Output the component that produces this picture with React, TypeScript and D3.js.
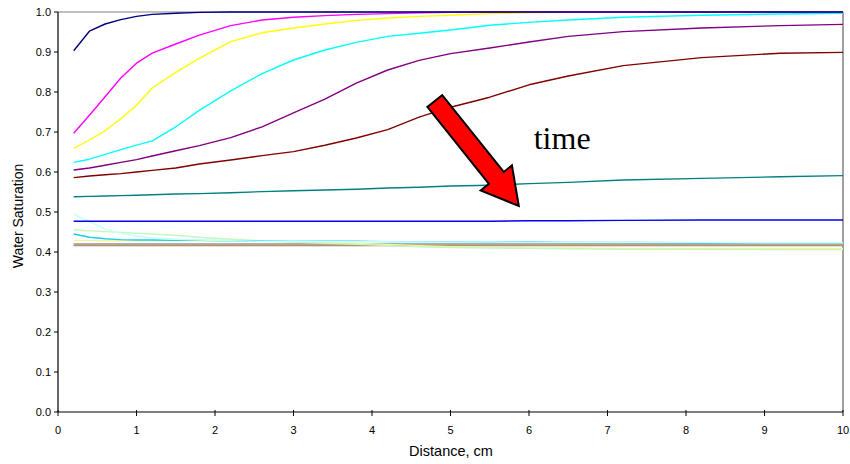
import React from "react";
import * as d3 from "d3";

const distances = [0.2, 0.4, 0.6, 0.8, 1.0, 1.2, 1.5, 1.8, 2.2, 2.6, 3.0, 3.4, 3.8, 4.2, 4.6, 5.0, 5.5, 6.0, 6.5, 7.2, 8.2, 9.2, 10];

const navy = [0.903, 0.952, 0.970, 0.981, 0.989, 0.994, 0.997, 0.999, 1.0, 1.0, 1.0, 1.0, 1.0, 1.0, 1.0, 1.0, 1.0, 1.0, 1.0, 1.0, 1.0, 1.0, 1.0];
const magenta = [0.697, 0.742, 0.788, 0.835, 0.872, 0.897, 0.920, 0.942, 0.966, 0.980, 0.987, 0.991, 0.994, 0.996, 0.998, 0.999, 1.0, 1.0, 1.0, 1.0, 1.0, 1.0, 1.0];
const yellow = [0.659, 0.680, 0.703, 0.733, 0.767, 0.810, 0.849, 0.884, 0.926, 0.948, 0.960, 0.970, 0.979, 0.985, 0.989, 0.992, 0.996, 0.998, 0.999, 1.0, 1.0, 1.0, 1.0];
const cyan = [0.624, 0.632, 0.644, 0.656, 0.667, 0.678, 0.713, 0.754, 0.803, 0.846, 0.880, 0.905, 0.924, 0.939, 0.947, 0.955, 0.967, 0.974, 0.980, 0.987, 0.992, 0.995, 0.997];
const purple = [0.605, 0.610, 0.617, 0.624, 0.631, 0.640, 0.653, 0.666, 0.686, 0.713, 0.748, 0.782, 0.822, 0.855, 0.879, 0.896, 0.910, 0.925, 0.939, 0.951, 0.960, 0.966, 0.969];
const darkRed = [0.586, 0.590, 0.593, 0.596, 0.600, 0.604, 0.610, 0.620, 0.630, 0.641, 0.651, 0.667, 0.685, 0.706, 0.737, 0.762, 0.787, 0.818, 0.840, 0.866, 0.886, 0.897, 0.899];
const teal = [0.538, 0.539, 0.540, 0.541, 0.542, 0.543, 0.545, 0.546, 0.548, 0.551, 0.553, 0.555, 0.557, 0.560, 0.562, 0.565, 0.567, 0.571, 0.574, 0.580, 0.584, 0.588, 0.591];
const blue = [0.477, 0.477, 0.477, 0.477, 0.477, 0.477, 0.477, 0.477, 0.477, 0.477, 0.477, 0.477, 0.477, 0.477, 0.477, 0.477, 0.477, 0.478, 0.478, 0.479, 0.480, 0.480, 0.480];
const paleCyan = [0.495, 0.476, 0.458, 0.447, 0.440, 0.435, 0.432, 0.430, 0.428, 0.427, 0.427, 0.426, 0.426, 0.426, 0.425, 0.425, 0.425, 0.424, 0.424, 0.424, 0.424, 0.423, 0.423];
const skyBlue = [0.445, 0.437, 0.433, 0.431, 0.430, 0.430, 0.429, 0.429, 0.428, 0.428, 0.427, 0.427, 0.427, 0.426, 0.426, 0.426, 0.425, 0.425, 0.424, 0.424, 0.423, 0.423, 0.423];
const paleGreen = [0.455, 0.453, 0.451, 0.449, 0.447, 0.445, 0.442, 0.437, 0.432, 0.428, 0.425, 0.422, 0.419, 0.416, 0.413, 0.411, 0.410, 0.409, 0.408, 0.407, 0.407, 0.406, 0.406];
const paleYellow = [0.429, 0.429, 0.428, 0.428, 0.428, 0.428, 0.428, 0.428, 0.427, 0.426, 0.425, 0.424, 0.422, 0.419, 0.416, 0.413, 0.411, 0.410, 0.410, 0.409, 0.409, 0.409, 0.409];
const silver = [0.421, 0.421, 0.421, 0.421, 0.421, 0.421, 0.421, 0.421, 0.421, 0.421, 0.421, 0.421, 0.421, 0.421, 0.421, 0.421, 0.421, 0.421, 0.421, 0.421, 0.421, 0.421, 0.421];
const tan = [0.418, 0.418, 0.418, 0.418, 0.418, 0.418, 0.418, 0.418, 0.418, 0.418, 0.418, 0.418, 0.418, 0.418, 0.418, 0.418, 0.418, 0.418, 0.418, 0.418, 0.418, 0.418, 0.418];
const brown = [0.416, 0.416, 0.416, 0.416, 0.416, 0.416, 0.416, 0.416, 0.416, 0.416, 0.416, 0.416, 0.416, 0.416, 0.416, 0.416, 0.416, 0.416, 0.416, 0.416, 0.416, 0.416, 0.416];

const seriesList = [
  { name: "s15", values: brown, color: "#9c8466" },
  { name: "s14", values: tan, color: "#c4a27a" },
  { name: "s13", values: silver, color: "#a9aeb8" },
  { name: "s12", values: paleYellow, color: "#f4f49a" },
  { name: "s11", values: paleGreen, color: "#c6f7c0" },
  { name: "s10", values: skyBlue, color: "#1ecbf4" },
  { name: "s9", values: paleCyan, color: "#c4ffff" },
  { name: "s8", values: blue, color: "#0000ee" },
  { name: "s7", values: teal, color: "#008080" },
  { name: "s6", values: darkRed, color: "#800000" },
  { name: "s5", values: purple, color: "#800080" },
  { name: "s4", values: cyan, color: "#00ffff" },
  { name: "s3", values: yellow, color: "#ffff00" },
  { name: "s2", values: magenta, color: "#ff00ff" },
  { name: "s1", values: navy, color: "#000080" },
];

const xTicks = [0, 1, 2, 3, 4, 5, 6, 7, 8, 9, 10];
const yTicks = [0, 0.1, 0.2, 0.3, 0.4, 0.5, 0.6, 0.7, 0.8, 0.9, 1.0];

// arrow annotation in data coordinates: tail -> tip
const arrowTail = { x: 4.8, y: 0.7775 };
const arrowTip = { x: 5.87, y: 0.515 };
const annotationText = "time";
const annotationPos = { x: 6.06, y: 0.658 };

const W = 850;
const H = 464;
const left = 58;
const right = 843;
const top = 12;
const bottom = 412;

export default function App() {
  const x = d3.scaleLinear().domain([0, 10]).range([left, right]);
  const y = d3.scaleLinear().domain([0, 1]).range([bottom, top]);
  const line = d3
    .line<number>()
    .x((_, i) => x(distances[i]))
    .y((v) => y(v));

  const tx = x(arrowTail.x), ty = y(arrowTail.y);
  const hx = x(arrowTip.x), hy = y(arrowTip.y);
  const dx = hx - tx, dy = hy - ty;
  const len = Math.sqrt(dx * dx + dy * dy);
  const ux = dx / len, uy = dy / len;
  const px = -uy, py = ux;
  const shaftW = 19 / 2, headW = 40 / 2, headL = 36;
  const bx = hx - ux * headL, by = hy - uy * headL;
  const pts: [number, number][] = [
    [tx + px * shaftW, ty + py * shaftW],
    [bx + px * shaftW, by + py * shaftW],
    [bx + px * headW, by + py * headW],
    [hx, hy],
    [bx - px * headW, by - py * headW],
    [bx - px * shaftW, by - py * shaftW],
    [tx - px * shaftW, ty - py * shaftW],
  ];

  const font = "'Liberation Sans', Arial, sans-serif";

  return (
    <svg
      width={W}
      height={H}
      style={{ position: "absolute", left: 0, top: 0, background: "#fff" }}
    >
      <rect x={0} y={0} width={W} height={H} fill="#fff" />
      <line x1={left} x2={right} y1={top} y2={top} stroke="#808080" strokeWidth={1} />
      <line x1={right} x2={right} y1={top} y2={bottom} stroke="#808080" strokeWidth={1.5} />
      <g fill="none" strokeLinejoin="round">
        {seriesList.map((s) => (
          <path key={s.name} d={line(s.values) || ""} stroke={s.color} strokeWidth={1.4} />
        ))}
      </g>
      <line x1={left} x2={left} y1={top} y2={bottom} stroke="#000" strokeWidth={1.2} />
      <line x1={left} x2={right} y1={bottom} y2={bottom} stroke="#000" strokeWidth={1.2} />
      {yTicks.map((t) => (
        <g key={"y" + t}>
          <line x1={left - 4} x2={left} y1={y(t)} y2={y(t)} stroke="#000" />
          <text
            x={left - 7}
            y={y(t)}
            dy="0.35em"
            textAnchor="end"
            fontFamily={font}
            fontSize={11}
            fill="#000"
          >
            {t.toFixed(1)}
          </text>
        </g>
      ))}
      {xTicks.map((t) => (
        <g key={"x" + t}>
          <line x1={x(t)} x2={x(t)} y1={bottom - 2} y2={bottom + 4} stroke="#000" />
          <text
            x={x(t)}
            y={bottom + 22}
            textAnchor="middle"
            fontFamily={font}
            fontSize={11}
            fill="#000"
          >
            {t}
          </text>
        </g>
      ))}
      <text
        x={451}
        y={456}
        textAnchor="middle"
        fontFamily={font}
        fontSize={14.5}
        fill="#000"
      >
        Distance, cm
      </text>
      <text
        transform={`translate(23, 216) rotate(-90)`}
        textAnchor="middle"
        fontFamily={font}
        fontSize={14}
        fill="#000"
      >
        Water Saturation
      </text>
      <polygon
        points={pts.map((p) => p.join(",")).join(" ")}
        fill="#ff0000"
        stroke="#000"
        strokeWidth={2}
        strokeLinejoin="miter"
      />
      <text
        x={x(annotationPos.x)}
        y={y(annotationPos.y)}
        fontFamily="'Liberation Serif', 'Times New Roman', serif"
        fontSize={32}
        fill="#000"
      >
        {annotationText}
      </text>
    </svg>
  );
}
